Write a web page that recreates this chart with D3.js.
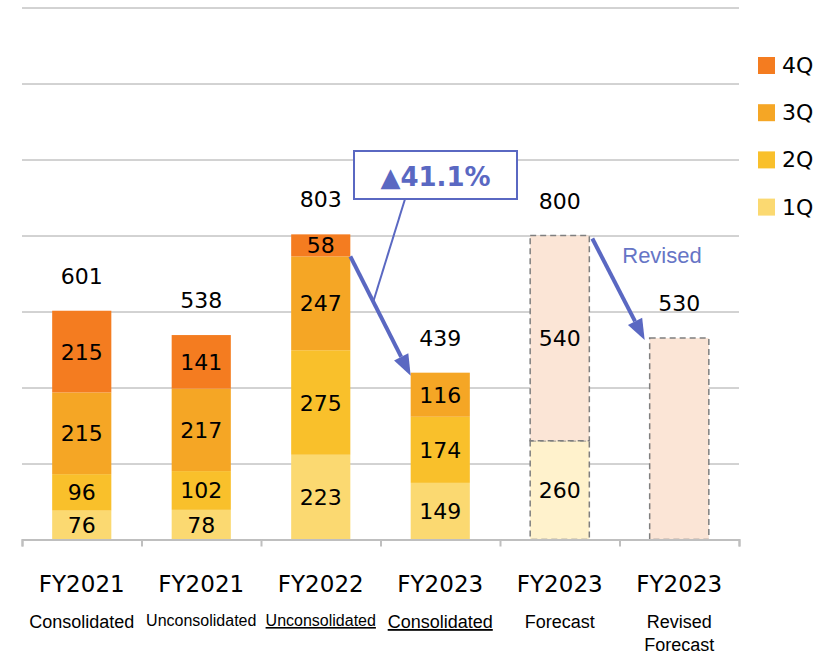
<!DOCTYPE html>
<html>
<head>
<meta charset="utf-8">
<script src="https://cdn.jsdelivr.net/npm/d3@7/dist/d3.min.js"></script>
<style>
  html, body { margin: 0; padding: 0; background: #fff; }
  svg { display: block; }
</style>
</head>
<body>
<svg id="chart" width="827" height="654"></svg>
<script>
// Sales by quarter (units), actuals and FY2023 forecasts
const categories = ["FY2021", "FY2021", "FY2022", "FY2023", "FY2023", "FY2023"];
const subLabels = [["Consolidated"], ["Unconsolidated"], ["Unconsolidated"], ["Consolidated"], ["Forecast"], ["Revised", "Forecast"]];
const underlined = [false, false, true, true, false, false];
const q1 = [76, 78, 223, 149];
const q2 = [96, 102, 275, 174];
const q3 = [215, 217, 247, 116];
const q4 = [215, 141, 58, null];
const totals = [601, 538, 803, 439, 800, 530];
const forecastH1 = [260, null];
const forecastH2 = [540, 530];
const quarterNames = ["1Q", "2Q", "3Q", "4Q"];
const yTicks = [0, 200, 400, 600, 800, 1000, 1200, 1400];
const changeLabel = "▲41.1%";
const revisedLabel = "Revised";

const quarterColors = ["#FBD971", "#F9C02B", "#F5A625", "#F47C20"];
const forecastColors = ["#FFF2CC", "#FBE5D6"];
const accent = "#5A68C2";

const svg = d3.select("#chart");
const numFont = "'DejaVu Sans', Verdana, sans-serif";
const subFont = "'Liberation Sans', Arial, sans-serif";

const x = d3.scaleBand().domain(d3.range(categories.length)).range([22, 739]).paddingInner(0).paddingOuter(0);
const xb = d3.scaleLinear().domain([0, categories.length]).range([22, 739]);
const y = d3.scaleLinear().domain([0, 1400]).range([539.5, 7.5]);
const barW = x.bandwidth() * 0.495;
const cx = i => x(i) + x.bandwidth() / 2;

// horizontal gridlines
const grid = svg.append("g").attr("transform", "translate(22,0)")
  .call(d3.axisLeft(y).tickValues(yTicks.slice(1)).tickSize(-(739 - 22)).tickFormat(""));
grid.select(".domain").remove();
grid.selectAll(".tick line").attr("stroke", "#a6a6a6").attr("stroke-width", 1);

// stacked actual bars
const actual = d3.range(q1.length).map(i => [q1[i], q2[i], q3[i], q4[i]]);
const segs = [];
actual.forEach((vals, i) => {
  let acc = 0;
  vals.forEach((v, k) => {
    if (v == null) return;
    segs.push({ i, k, v, y0: acc, y1: acc + v });
    acc += v;
  });
});

svg.append("g").selectAll("rect").data(segs).join("rect")
  .attr("x", d => cx(d.i) - barW / 2)
  .attr("width", barW)
  .attr("y", d => y(d.y1))
  .attr("height", d => y(d.y0) - y(d.y1))
  .attr("fill", d => quarterColors[d.k]);

svg.append("g").selectAll("text").data(segs).join("text")
  .attr("x", d => cx(d.i))
  .attr("y", d => (y(d.y0) + y(d.y1)) / 2 + 8)
  .attr("text-anchor", "middle")
  .attr("font-family", numFont).attr("font-size", 22).attr("fill", "#000")
  .text(d => d.v);

// forecast bars (dashed outline)
const fSegs = [];
forecastH2.forEach((v2, j) => {
  const i = q1.length + j;
  const h1 = forecastH1[j];
  if (h1 != null) {
    fSegs.push({ i, k: 0, v: h1, y0: 0, y1: h1, label: true });
    fSegs.push({ i, k: 1, v: v2, y0: h1, y1: h1 + v2, label: true });
  } else {
    fSegs.push({ i, k: 1, v: v2, y0: 0, y1: v2, label: false });
  }
});

svg.append("g").selectAll("rect").data(fSegs).join("rect")
  .attr("x", d => cx(d.i) - barW / 2)
  .attr("width", barW)
  .attr("y", d => y(d.y1))
  .attr("height", d => y(d.y0) - y(d.y1))
  .attr("fill", d => forecastColors[d.k])
  .attr("stroke", "#7f7f7f").attr("stroke-width", 1.5)
  .attr("stroke-dasharray", "6,4");

svg.append("g").selectAll("text").data(fSegs.filter(d => d.label)).join("text")
  .attr("x", d => cx(d.i))
  .attr("y", d => (y(d.y0) + y(d.y1)) / 2 + 8)
  .attr("text-anchor", "middle")
  .attr("font-family", numFont).attr("font-size", 22).attr("fill", "#000")
  .text(d => d.v);

// totals above bars
svg.append("g").selectAll("text").data(totals).join("text")
  .attr("x", (d, i) => cx(i))
  .attr("y", d => y(d) - 27)
  .attr("text-anchor", "middle")
  .attr("font-family", numFont).attr("font-size", 22).attr("fill", "#000")
  .text(d => d);

// category axis
const axis = svg.append("g").attr("transform", `translate(0,${y(0)})`)
  .call(d3.axisBottom(xb).ticks(categories.length).tickSize(7).tickSizeOuter(7).tickFormat(""));
axis.select(".domain").attr("stroke", "#bfbfbf").attr("stroke-width", 2);
axis.selectAll(".tick line").attr("stroke", "#bfbfbf").attr("stroke-width", 2);

svg.append("g").selectAll("text").data(categories).join("text")
  .attr("x", (d, i) => cx(i))
  .attr("y", 592)
  .attr("text-anchor", "middle")
  .attr("font-family", numFont).attr("font-size", 23).attr("fill", "#000")
  .text(d => d);

subLabels.forEach((lines, i) => {
  const small = lines[0] === "Unconsolidated";
  lines.forEach((t, li) => {
    svg.append("text")
      .attr("x", cx(i))
      .attr("y", (small ? 626 : 628) + li * 23)
      .attr("text-anchor", "middle")
      .attr("font-family", subFont).attr("font-size", small ? 16 : 18).attr("fill", "#000")
      .style("text-decoration", underlined[i] ? "underline" : "none")
      .text(t);
  });
});

// legend
const legend = svg.append("g");
quarterNames.slice().reverse().forEach((name, r) => {
  const k = quarterNames.length - 1 - r;
  const yy = 57 + r * 47.2;
  legend.append("rect").attr("x", 758).attr("y", yy).attr("width", 17).attr("height", 17)
    .attr("fill", quarterColors[k]);
  legend.append("text").attr("x", 782).attr("y", yy + 16)
    .attr("font-family", numFont).attr("font-size", 22).attr("fill", "#000").text(name);
});

// arrows
function arrow(x1, y1, x2, y2) {
  const ang = Math.atan2(y2 - y1, x2 - x1);
  const len = 21, half = 8;
  const bx = x2 - len * Math.cos(ang), by = y2 - len * Math.sin(ang);
  svg.append("line").attr("x1", x1).attr("y1", y1).attr("x2", bx).attr("y2", by)
    .attr("stroke", accent).attr("stroke-width", 4);
  const px = -Math.sin(ang) * half, py = Math.cos(ang) * half;
  svg.append("path")
    .attr("d", `M${x2},${y2}L${bx + px},${by + py}L${bx - px},${by - py}Z`)
    .attr("fill", accent);
}

// FY2022 -> FY2023 decline
const a1x = cx(2) + barW / 2, a1y = y(totals[2] - q4[2]);
const a2x = cx(3) - barW / 2, a2y = y(totals[3]) + 3;
arrow(a1x, a1y, a2x, a2y);

// callout box with leader line
const boxX = 354, boxY = 151, boxW = 163, boxH = 48;
const t = 0.38;
svg.append("line")
  .attr("x1", 405).attr("y1", boxY + boxH)
  .attr("x2", a1x + (a2x - a1x) * t).attr("y2", a1y + (a2y - a1y) * t)
  .attr("stroke", accent).attr("stroke-width", 2);
svg.append("rect").attr("x", boxX).attr("y", boxY).attr("width", boxW).attr("height", boxH)
  .attr("fill", "#fff").attr("stroke", accent).attr("stroke-width", 2);
svg.append("text").attr("x", boxX + boxW / 2).attr("y", 186)
  .attr("text-anchor", "middle")
  .attr("font-family", numFont).attr("font-weight", "bold").attr("font-size", 26)
  .attr("fill", accent).text(changeLabel);

// forecast -> revised forecast
arrow(cx(4) + barW / 2 + 3, y(totals[4]) + 3, cx(5) - barW / 2 - 5, y(totals[5]) + 2);
svg.append("text").attr("x", 662).attr("y", 263)
  .attr("text-anchor", "middle")
  .attr("font-family", subFont).attr("font-size", 22)
  .attr("fill", "#6675C6").text(revisedLabel);
</script>
</body>
</html>
